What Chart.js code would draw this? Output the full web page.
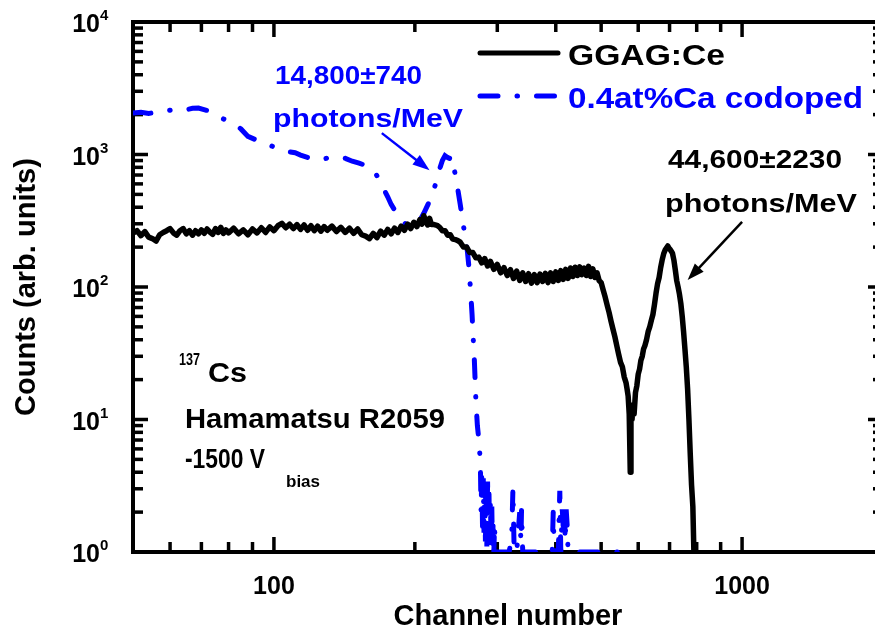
<!DOCTYPE html>
<html>
<head>
<meta charset="utf-8">
<title>GGAG:Ce pulse height spectra</title>
<script src="https://cdn.jsdelivr.net/npm/chart.js@4.4.1/dist/chart.umd.min.js"></script>
<style>
  html, body { margin: 0; padding: 0; background: #fff; overflow: hidden; }
  #wrap { width: 884px; height: 635px; }
</style>
</head>
<body>
<div id="wrap"><canvas id="spectrum" width="884" height="635"></canvas></div>
<script>
// GGAG:Ce spectrum (channel, counts)
const ggagChannel = [
  50, 51, 52, 53, 54, 55, 56, 57, 58, 59, 60, 61, 62, 63, 64, 65, 66, 67, 68, 69,
  70, 71, 72, 73, 74, 75, 76, 77, 78, 79, 80, 82, 84, 86, 88, 90, 92, 94, 96, 98,
  100, 102, 104, 106, 108, 110, 112, 114, 116, 118, 120, 122, 124, 126, 128, 130,
  133, 136, 139, 142, 145, 148, 151, 154, 157, 160, 163, 166, 169, 172, 175, 178,
  181, 184, 187, 190, 193, 196, 199, 202, 205, 207, 209, 211, 213, 215, 217, 220,
  223, 226, 229, 232, 235, 238, 241, 244, 247, 250, 254, 258, 262, 266, 270, 274,
  278, 282, 286, 290, 295, 300, 305, 310, 315, 320, 325, 330, 335, 340, 345, 350,
  355, 360, 365, 370, 375, 380, 385, 390, 395, 400, 405, 410, 415, 420, 425, 430,
  435, 440, 445, 450, 455, 460, 465, 470, 475, 480, 485, 490, 495, 500, 505, 510,
  515, 520, 525, 530, 535, 540, 545, 550, 555, 560, 565, 568, 571, 574, 577, 579,
  582, 585, 588, 592, 596, 600, 604, 608, 612, 616, 620, 625, 630, 635, 640, 645,
  650, 655, 660, 665, 670, 675, 680, 685, 690, 694, 698, 702, 706, 710, 715, 720,
  725, 730, 735, 740, 745, 750, 755, 760, 765, 770, 775, 780, 785, 789
];
const ggagCounts = [
  255, 266, 244, 262, 238, 232, 222, 248, 258, 266, 276, 256, 246, 266, 276, 252, 266, 246, 266, 252,
  270, 254, 274, 260, 250, 276, 258, 282, 254, 270, 256, 278, 252, 270, 248, 274, 256, 280, 258, 284,
  266, 290, 302, 280, 298, 276, 296, 272, 294, 268, 290, 266, 288, 264, 286, 268,
  288, 262, 282, 258, 278, 254, 274, 248, 242, 232, 254, 236, 264, 246, 272, 252,
  278, 258, 288, 268, 298, 276, 308, 286, 322, 298, 345, 314, 294, 330, 296, 296,
  292, 282, 266, 266, 246, 248, 230, 228, 224, 218, 200, 200, 182, 182, 166, 168,
  152, 164, 144, 156, 136, 148, 128, 140, 122, 135, 116, 132, 112, 128, 110, 126,
  107, 124, 108, 125, 110, 127, 108, 128, 110, 130, 112, 133, 114, 136, 116, 139,
  120, 141, 122, 142, 124, 139, 122, 143, 120, 137, 118, 128, 112, 108, 95, 84,
  73, 64, 55, 48, 42, 36, 31, 27, 25, 21, 19, 17, 15, 11, 4, 12,
  10, 13, 11, 16, 18, 22, 24, 28, 30, 34, 36, 40, 46, 50, 56, 62,
  74, 90, 106, 118, 140, 160, 178, 190, 198, 204, 196, 192, 186, 180, 160, 135,
  112, 100, 88, 75, 60, 46, 34, 25, 17, 10, 5.5, 3.2, 2.2, 1
];

// 0.4at%Ca codoped spectrum (channel, counts)
const caChannel = [
  50, 52, 54, 56, 58, 61, 64, 67, 69, 72, 76, 79, 82, 85, 88, 92, 96, 100, 104, 107,
  111, 114, 118, 122, 126, 130, 134, 138, 142, 147, 152, 158, 163, 166, 169, 172, 175, 178, 182, 187,
  193, 198, 203, 209, 214, 218, 222, 226, 229, 232, 235, 238, 241, 243, 246, 250, 253, 256, 259, 261,
  263, 265, 266, 268, 270, 272, 274, 276, 277, 278, 279, 280, 281, 282, 283, 284, 285, 286, 287, 288,
  289, 290, 291, 292, 293, 294, 295, 296, 297, 300, 305, 310, 318, 322, 324, 326, 330, 335, 337, 338,
  340, 350, 360, 372, 385, 393, 395, 397, 405, 408, 410, 413, 415, 417, 419, 421, 423, 425, 430, 440,
  455, 470, 490, 510, 540, 560
];
const caCounts = [
  2060, 2080, 2040, 2080, 2120, 2180, 2150, 2230, 2240, 2150, 1930, 1820, 1730, 1560, 1370, 1280, 1210, 1140, 1100, 1050,
  1030, 990, 950, 925, 910, 940, 955, 930, 935, 890, 860, 820, 770, 690, 600, 540, 480, 420, 370, 320,
  290, 282, 298, 360, 430, 495, 620, 780, 900, 980, 950, 930, 960, 760, 600, 420, 320, 240, 185, 140,
  95, 62, 47, 28, 14, 9, 7, 4.8, 2, 3.9, 1.5, 3.6, 1.4, 3.3, 1.2, 3, 1.1, 3.4, 1.3, 2.8,
  1.1, 2.4, 1.2, 2.2, 1, 1.8, 1, 1.6, 1, 1, 1, 1, 1, 1.3, 3, 1, 1, 2, 1.2, 2.1,
  1, 1, 1, 1, 1, 1, 2, 1, 1, 2.9, 1, 2.1, 1.5, 2.3, 1.2, 2.1, 1.6, 1, 1, 1,
  1, 1, 1, 1, 1, 1
];

// axis ticks
const xMajor = [100, 1000];
const xMinor = [60, 70, 80, 90, 200, 300, 400, 500, 600, 700, 800, 900];
const yMajor = [1, 10, 100, 1000, 10000];
const yExponent = ['0', '1', '2', '3', '4'];
const yMinorSteps = [2, 3, 4, 5, 6, 7, 8, 9];

const FONT = '"Liberation Sans", Arial, Helvetica, sans-serif';

function toPoints(xs, ys) {
  return xs.map((x, i) => ({ x: x, y: ys[i] }));
}

// bold text, optionally squeezed/stretched to a given width
function label(ctx, str, x, y, size, color, width) {
  ctx.save();
  ctx.font = 'bold ' + size + 'px ' + FONT;
  ctx.fillStyle = color;
  ctx.textAlign = 'left';
  ctx.textBaseline = 'alphabetic';
  const w = ctx.measureText(str).width;
  ctx.translate(x, y);
  if (width) ctx.scale(width / w, 1);
  ctx.fillText(str, 0, 0);
  ctx.restore();
}

function arrow(ctx, x0, y0, x1, y1, color) {
  const a = Math.atan2(y1 - y0, x1 - x0);
  const head = 17, half = 6;
  ctx.save();
  ctx.strokeStyle = color;
  ctx.fillStyle = color;
  ctx.lineWidth = 2.5;
  ctx.beginPath();
  ctx.moveTo(x0, y0);
  ctx.lineTo(x1 - head * 0.7 * Math.cos(a), y1 - head * 0.7 * Math.sin(a));
  ctx.stroke();
  ctx.beginPath();
  ctx.moveTo(x1, y1);
  ctx.lineTo(x1 - head * Math.cos(a) + half * Math.sin(a), y1 - head * Math.sin(a) - half * Math.cos(a));
  ctx.lineTo(x1 - head * Math.cos(a) - half * Math.sin(a), y1 - head * Math.sin(a) + half * Math.cos(a));
  ctx.closePath();
  ctx.fill();
  ctx.restore();
}

function tick(ctx, x0, y0, x1, y1) {
  ctx.beginPath();
  ctx.moveTo(x0, y0);
  ctx.lineTo(x1, y1);
  ctx.stroke();
}

// box frame with inward ticks on all four sides
const frame = {
  id: 'frame',
  beforeDatasetsDraw(chart) {
    const ctx = chart.ctx;
    const { left, right, top, bottom } = chart.chartArea;
    const xs = chart.scales.x, ys = chart.scales.y;
    ctx.save();
    ctx.strokeStyle = '#000';
    ctx.lineWidth = 4;
    ctx.strokeRect(left, top, right - left, bottom - top);
    ctx.lineWidth = 3.5;
    xMajor.concat(xMinor).forEach(v => {
      const px = xs.getPixelForValue(v);
      const len = xMajor.includes(v) ? 15 : 10;
      tick(ctx, px, bottom, px, bottom - len);
      tick(ctx, px, top, px, top + len);
    });
    yMajor.forEach((d, i) => {
      const py = ys.getPixelForValue(d);
      tick(ctx, left, py, left + 15, py);
      tick(ctx, right, py, right - 15, py);
      if (i === yMajor.length - 1) return;
      yMinorSteps.forEach(s => {
        const pm = ys.getPixelForValue(d * s);
        tick(ctx, left, pm, left + 10, pm);
        tick(ctx, right, pm, right - 10, pm);
      });
    });
    ctx.restore();
  },
  afterDatasetsDraw(chart) {
    const ctx = chart.ctx;
    const xs = chart.scales.x, ys = chart.scales.y;
    const ds = chart.data.datasets;

    // decade labels on the count axis
    yMajor.forEach((d, i) => {
      const py = ys.getPixelForValue(d);
      ctx.save();
      ctx.fillStyle = '#000';
      ctx.font = 'bold 25px ' + FONT;
      ctx.textAlign = 'right';
      ctx.fillText('10', 100, py + 10);
      ctx.font = 'bold 15px ' + FONT;
      ctx.textAlign = 'left';
      ctx.fillText(yExponent[i], 100, py - 2);
      ctx.restore();
    });

    // legend
    ds.forEach((d, i) => {
      const y = 53 + i * 43;
      ctx.save();
      ctx.strokeStyle = d.borderColor;
      ctx.lineWidth = Math.min(d.borderWidth, 5);
      ctx.lineCap = d.borderCapStyle || 'butt';
      ctx.setLineDash(d.borderDash || []);
      tick(ctx, 480, y, 558, y);
      ctx.restore();
    });
    label(ctx, ds[0].label, 568, 65, 29, '#000', 157);
    label(ctx, ds[1].label, 568, 108, 30, '#0000ff', 295);

    // light yield notes
    label(ctx, '14,800\u00b1740', 275, 84, 26, '#0000ff', 147);
    label(ctx, 'photons/MeV', 273, 127, 26, '#0000ff', 190);
    arrow(ctx, xs.getPixelForValue(170), ys.getPixelForValue(1450),
      xs.getPixelForValue(215), ys.getPixelForValue(760), '#0000ff');

    label(ctx, '44,600\u00b12230', 668, 168, 25, '#000', 174);
    label(ctx, 'photons/MeV', 665, 212, 25, '#000', 192);
    arrow(ctx, xs.getPixelForValue(1000), ys.getPixelForValue(310),
      xs.getPixelForValue(765), ys.getPixelForValue(113), '#000');

    // source and PMT details
    label(ctx, '137', 179, 365, 16, '#000', 21);
    label(ctx, 'Cs', 208, 382, 28, '#000', 39);
    label(ctx, 'Hamamatsu R2059', 185, 428, 28, '#000', 260);
    label(ctx, '-1500 V', 185, 468, 28, '#000', 80);
    label(ctx, 'bias', 286, 487, 17, '#000', 34);
  }
};

const chart = new Chart(document.getElementById('spectrum').getContext('2d'), {
  type: 'line',
  data: {
    datasets: [
      {
        label: 'GGAG:Ce',
        data: toPoints(ggagChannel, ggagCounts),
        borderColor: '#000',
        borderWidth: 5.5,
        borderJoinStyle: 'round',
        borderCapStyle: 'round',
        pointRadius: 0
      },
      {
        label: '0.4at%Ca codoped',
        data: toPoints(caChannel, caCounts),
        borderColor: '#0000ff',
        borderWidth: 5,
        borderDash: [18, 19, 0.5, 19],
        borderCapStyle: 'round',
        pointRadius: 0
      }
    ]
  },
  options: {
    responsive: false,
    animation: false,
    layout: { padding: { left: 0, right: 1, top: 22, bottom: 0 } },
    plugins: { legend: { display: false }, tooltip: { enabled: false } },
    scales: {
      x: {
        type: 'logarithmic',
        min: 50,
        max: 2000,
        afterBuildTicks: s => { s.ticks = [50].concat(xMinor, xMajor).sort((a, b) => a - b).map(v => ({ value: v })); },
        afterFit: s => { s.height = 83; },
        grid: { display: false, drawTicks: false },
        border: { display: false },
        ticks: {
          autoSkip: false,
          maxRotation: 0,
          padding: 20,
          color: '#000',
          font: { family: FONT, size: 25, weight: 'bold' },
          callback: v => xMajor.includes(v) ? String(v) : ''
        },
        title: {
          display: true,
          text: 'Channel number',
          color: '#000',
          font: { family: FONT, size: 29, weight: 'bold' },
          padding: { top: 0, bottom: 1 }
        }
      },
      y: {
        type: 'logarithmic',
        min: 1,
        max: 10000,
        afterBuildTicks: s => { s.ticks = yMajor.map(v => ({ value: v })); },
        afterFit: s => { s.width = 133; },
        grid: { display: false, drawTicks: false },
        border: { display: false },
        ticks: { display: false },
        title: {
          display: true,
          text: 'Counts (arb. units)',
          color: '#000',
          font: { family: FONT, size: 29, weight: 'bold' },
          padding: { top: 10, bottom: 0 }
        }
      }
    }
  },
  plugins: [frame]
});
</script>
</body>
</html>
